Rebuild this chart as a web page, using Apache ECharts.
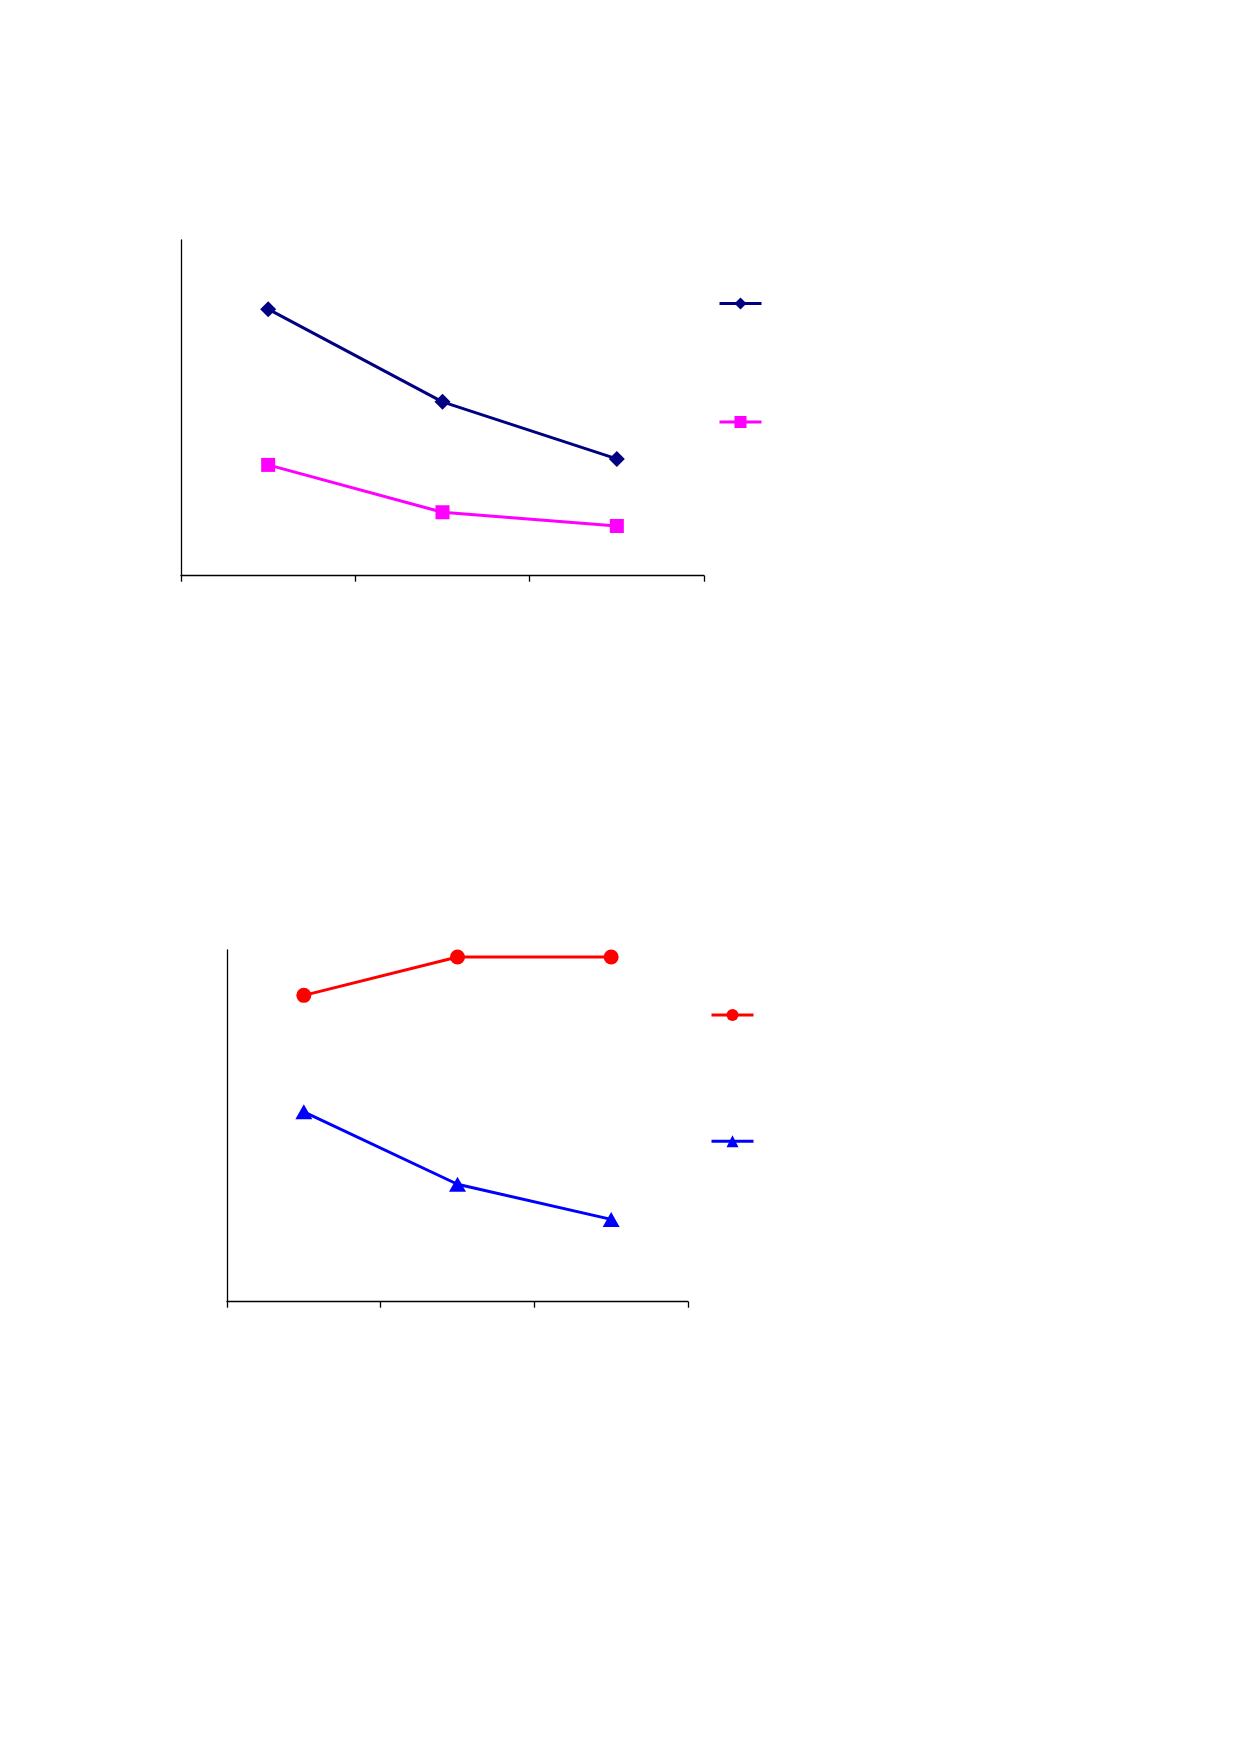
<!DOCTYPE html>
<html>
<head>
<meta charset="utf-8">
<script src="https://cdn.jsdelivr.net/npm/echarts@6/dist/echarts.min.js"></script>
<style>
html,body{margin:0;padding:0;background:#fff;}
#c{width:1239px;height:1752px;}
</style>
</head>
<body>
<div id="c"></div>
<script>
// Data (no visible labels in the reference; values read on a 0-100 relative scale)
const categories = ['1', '2', '3'];
const seriesA = [79.4, 51.8, 34.8];   // navy diamonds (top chart)
const seriesB = [33.0, 18.9, 14.8];   // magenta squares (top chart)
const seriesC = [87.1, 98.0, 98.0];   // red circles (bottom chart)
const seriesD = [54.0, 33.4, 23.4];   // blue triangles (bottom chart)
const seriesNames = ['A', 'B', 'C', 'D'];

const chart = echarts.init(document.getElementById('c'), null, {renderer: 'canvas'});

const axisLine = {show: true, lineStyle: {color: '#000', width: 1.3}};
function xAxis(gi) {
  return {
    type: 'category', gridIndex: gi, data: categories, boundaryGap: true,
    axisLine: axisLine,
    axisTick: {show: true, length: 6, alignWithLabel: false, lineStyle: {color: '#000', width: 1.3}},
    axisLabel: {show: false}, splitLine: {show: false}
  };
}
function yAxis(gi) {
  return {
    type: 'value', gridIndex: gi, min: 0, max: 100,
    axisLine: axisLine, axisTick: {show: false},
    axisLabel: {show: false}, splitLine: {show: false}
  };
}

chart.setOption({
  animation: false,
  backgroundColor: '#fff',
  grid: [
    {left: 181, top: 240, width: 523, height: 335.7},
    {left: 227, top: 950, width: 461, height: 351.7}
  ],
  xAxis: [xAxis(0), xAxis(1)],
  yAxis: [yAxis(0), yAxis(1)],
  legend: [
    {
      data: [seriesNames[0], seriesNames[1]],
      orient: 'vertical', left: 718, top: 296, padding: 0,
      itemWidth: 42, itemHeight: 15, itemGap: 105,
      lineStyle: {width: 3},
      formatter: function () { return ''; },
      selectedMode: false
    },
    {
      data: [seriesNames[2], seriesNames[3]],
      orient: 'vertical', left: 710, top: 1007.5, padding: 0,
      itemWidth: 42, itemHeight: 15, itemGap: 112.7,
      lineStyle: {width: 3},
      formatter: function () { return ''; },
      selectedMode: false
    }
  ],
  series: [
    {
      name: seriesNames[0], type: 'line', xAxisIndex: 0, yAxisIndex: 0, data: seriesA,
      symbol: 'diamond', symbolSize: 16,
      lineStyle: {color: '#000080', width: 3}, itemStyle: {color: '#000080'}
    },
    {
      name: seriesNames[1], type: 'line', xAxisIndex: 0, yAxisIndex: 0, data: seriesB,
      symbol: 'rect', symbolSize: 14,
      lineStyle: {color: '#FF00FF', width: 3}, itemStyle: {color: '#FF00FF'}
    },
    {
      name: seriesNames[2], type: 'line', xAxisIndex: 1, yAxisIndex: 1, data: seriesC,
      symbol: 'circle', symbolSize: 15,
      lineStyle: {color: '#FF0000', width: 3}, itemStyle: {color: '#FF0000'}
    },
    {
      name: seriesNames[3], type: 'line', xAxisIndex: 1, yAxisIndex: 1, data: seriesD,
      symbol: 'triangle', symbolSize: [17, 15],
      lineStyle: {color: '#0000FF', width: 3}, itemStyle: {color: '#0000FF'}
    }
  ]
});
</script>
</body>
</html>
